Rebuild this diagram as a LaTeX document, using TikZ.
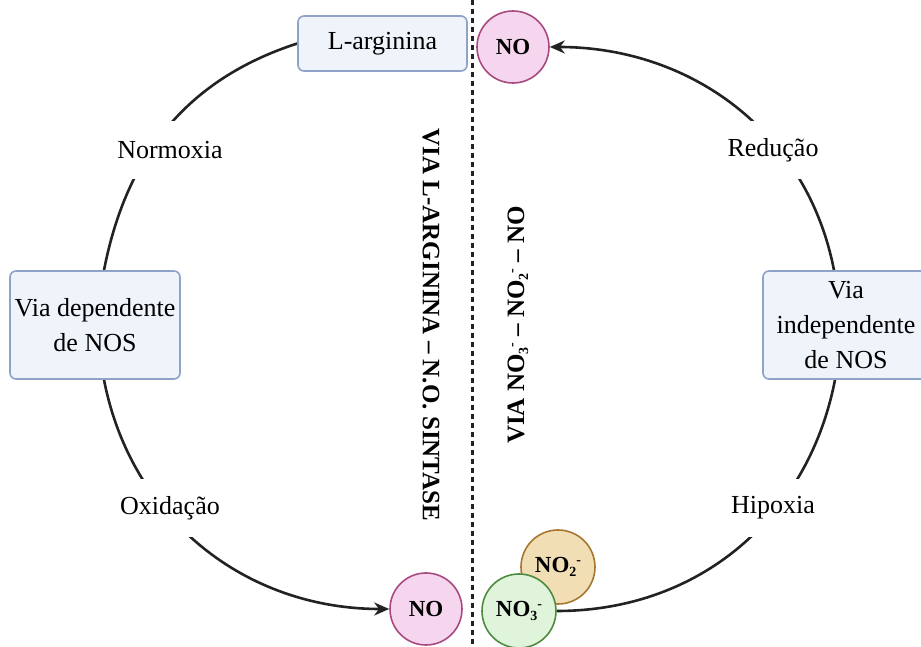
\documentclass[tikz,border=0pt]{standalone}
\usepackage{fontspec}
\setmainfont{Liberation Serif}
\usetikzlibrary{arrows.meta,backgrounds}
\definecolor{boxfill}{HTML}{EFF3FA}
\definecolor{boxline}{HTML}{8FA3C9}
\definecolor{pinkfill}{HTML}{F6D6EE}
\definecolor{pinkline}{HTML}{A8497F}
\definecolor{greenfill}{HTML}{E0F3DB}
\definecolor{greenline}{HTML}{4E8B3E}
\definecolor{tanfill}{HTML}{F2DEB5}
\definecolor{tanline}{HTML}{A8772F}
\definecolor{ink}{HTML}{222222}
\newcommand\ionsub[1]{\raisebox{-4pt}{\fontsize{14}{14}\selectfont #1}\raisebox{8pt}{\fontsize{14}{14}\selectfont -}}
\tikzset{
  x=1pt, y=1pt,
  boxnode/.style={draw=boxline, fill=boxfill, line width=1.6pt, rounded corners=6pt,
    align=center, font=\fontsize{26}{35}\selectfont, inner sep=0pt},
  molnode/.style={circle, line width=1.6pt, inner sep=0pt, minimum size=#1, font=\fontsize{23}{24}\selectfont\bfseries},
  nomol/.style={molnode=72pt, draw=pinkline, fill=pinkfill},
  lbl/.style={fill=white, font=\fontsize{26}{30}\selectfont, inner xsep=3pt, minimum height=58pt},
  vtext/.style={font=\fontsize{25}{30}\selectfont\bfseries, inner sep=0pt},
  conn/.style={draw=ink, line width=2.6pt},
  arr/.style={conn, -{Stealth[length=15pt,width=13pt]}}
}
\begin{document}
\begin{tikzpicture}
\useasboundingbox (0,0) rectangle (921,647);
% boxes
\node[boxnode, minimum width=169pt, minimum height=55pt] (larg) at (382.5,603.5) {L-arginina};
\node[boxnode, minimum width=170pt, minimum height=108pt] (lbox) at (95,322) {Via dependente\\de NOS};
\node[boxnode, minimum width=166pt, minimum height=108pt] (rbox) at (846,322) {Via\\independente\\de NOS};
% molecules
\node[nomol] (notop) at (513,600) {NO};
\node[nomol] (nobot) at (426,38) {NO};
\node[molnode=74pt, draw=tanline, fill=tanfill] (no2) at (558,80) {NO\ionsub{2}};
\node[molnode=74pt, draw=greenline, fill=greenfill] (no3) at (519,36) {NO\ionsub{3}};
% vertical titles
\node[vtext, rotate=-90] (tleft) at (431,322) {VIA L-ARGININA – N.O. SINTASE};
\node[vtext, rotate=90] (tright) at (518,322) {VIA NO\ionsub{3} – NO\ionsub{2} – NO};
% labels
\node[lbl] (normoxia) at (170,497) {Normoxia};
\node[lbl] (oxid) at (170,139) {Oxidação};
\node[lbl] (reduc) at (773,497) {Redução};
\node[lbl] (hipox) at (773,139) {Hipoxia};
\coordinate (dtop) at (472,647);
\coordinate (dbot) at (472,0);
\begin{scope}[on background layer]
  \draw[ink, line width=3pt, dash pattern=on 5pt off 4pt] (dtop) -- (dbot);
  \draw[conn] (larg.west) to[out=198, in=79] ([xshift=9pt]lbox.north);
  \draw[arr] ([xshift=9pt]lbox.south) to[out=281, in=180] (nobot.west);
  \draw[arr] ([xshift=-12pt]rbox.north) to[out=101, in=0] (notop.east);
  \draw[conn] (no3.east) to[out=0, in=259] ([xshift=-11pt]rbox.south);
\end{scope}
\end{tikzpicture}
\end{document}
